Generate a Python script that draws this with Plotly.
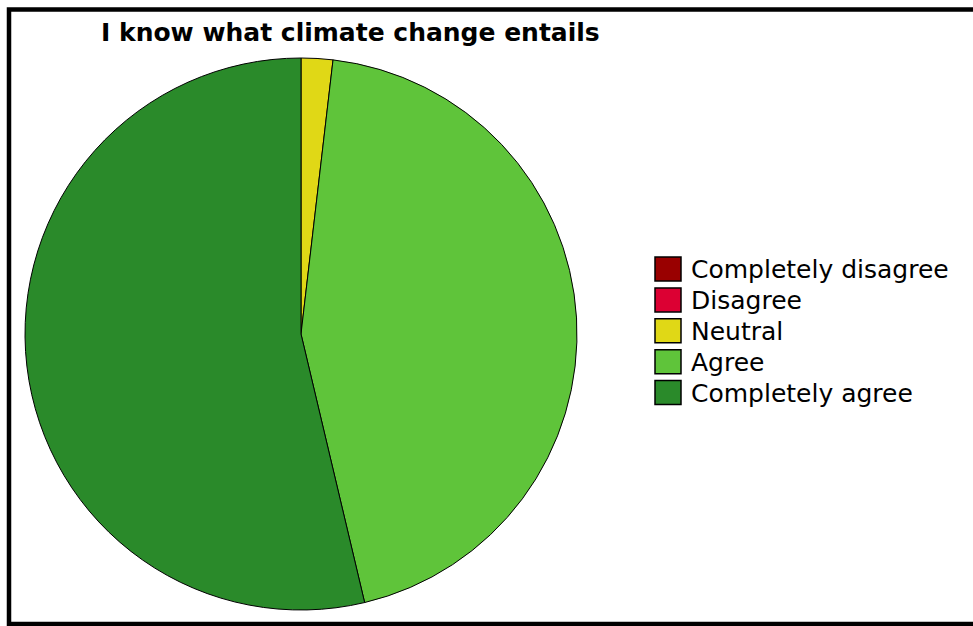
import plotly.graph_objects as go

W, H = 973, 626

categories = ["Completely disagree", "Disagree", "Neutral", "Agree", "Completely agree"]
counts = [0, 0, 1, 24, 29]
colors = ["#990000", "#dc0033", "#e0d816", "#5fc43a", "#2a8a2a"]
title_text = "I know what climate change entails"


def px_x(x):
    return x / W


def px_y(y):
    return 1 - y / H


fig = go.Figure()

# pie centred at (301, 334) with radius 276 px
cx, cy, r = 301, 334, 276
fig.add_trace(go.Pie(
    labels=categories,
    values=counts,
    marker=dict(colors=colors, line=dict(color="#000000", width=1)),
    sort=False,
    direction="clockwise",
    rotation=0,
    textinfo="none",
    showlegend=False,
    domain=dict(x=[px_x(cx - r), px_x(cx + r)], y=[px_y(cy + r), px_y(cy - r)]),
))

shapes = []
annotations = []

# frame around the chart (open on the right edge)
shapes.append(dict(type="rect", xref="paper", yref="paper",
                   x0=px_x(9), x1=px_x(990), y0=px_y(624), y1=px_y(9.5),
                   line=dict(color="#000000", width=4.5), fillcolor="rgba(0,0,0,0)"))

# title
annotations.append(dict(text="<b>" + title_text + "</b>", xref="paper", yref="paper",
                        x=px_x(350), y=px_y(33), xanchor="center", yanchor="middle",
                        showarrow=False, font=dict(family="DejaVu Sans", size=25, color="#000000")))

# legend: swatches and labels
row0, step = 269, 30.9
for i, (name, col) in enumerate(zip(categories, colors)):
    yc = row0 + i * step
    shapes.append(dict(type="rect", xref="paper", yref="paper",
                       x0=px_x(655), x1=px_x(681), y0=px_y(yc + 12), y1=px_y(yc - 12),
                       fillcolor=col, line=dict(color="#000000", width=1.5)))
    annotations.append(dict(text=name, xref="paper", yref="paper",
                            x=px_x(689), y=px_y(yc + 1), xanchor="left", yanchor="middle",
                            showarrow=False, font=dict(family="DejaVu Sans", size=25, color="#000000")))

fig.update_layout(
    width=W, height=H,
    margin=dict(l=0, r=0, t=0, b=0),
    paper_bgcolor="#ffffff",
    plot_bgcolor="#ffffff",
    shapes=shapes,
    annotations=annotations,
)

fig.write_html("out.html")
